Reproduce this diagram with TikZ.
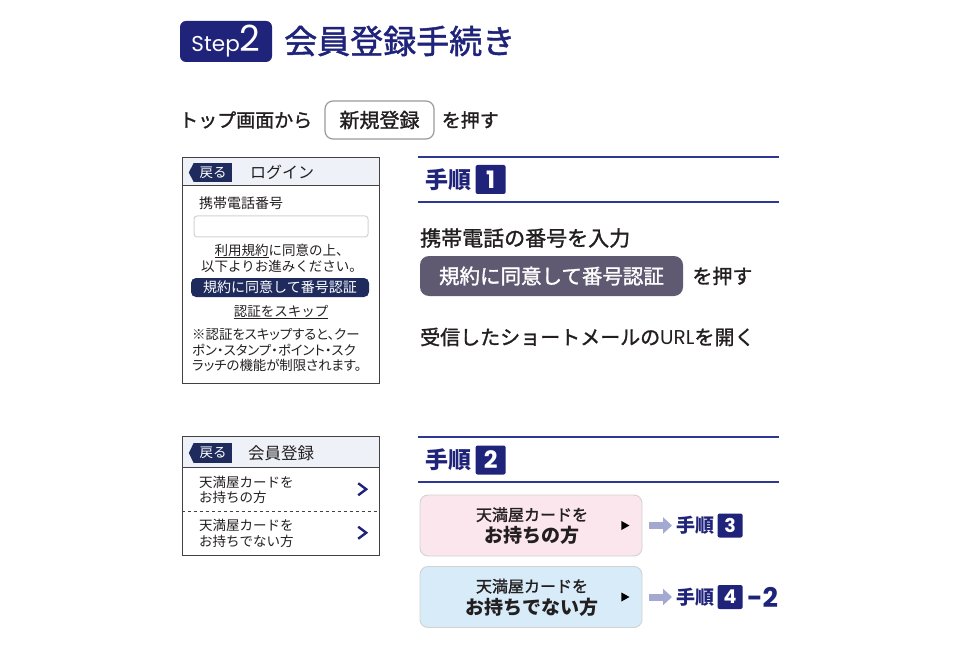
\documentclass[tikz,border=0pt]{standalone}
\usepackage{fontspec}
\setmainfont{Noto Sans CJK JP}
\newfontfamily\jpmid[FakeBold=1.4]{Noto Sans CJK JP}
\newfontfamily\jpprop[RawFeature=+palt]{Noto Sans CJK JP}
\newfontfamily\geo{Poppins}
\usetikzlibrary{arrows.meta, positioning, calc}
\definecolor{navy}    {HTML}{1F237A}
\definecolor{rule}    {HTML}{2C3893}
\definecolor{ink}     {HTML}{231F20}
\definecolor{headsoft}{HTML}{EEF2F8}
\definecolor{barnavy} {HTML}{1E2B5C}
\definecolor{btngray} {HTML}{5F5A72}
\definecolor{edge}    {HTML}{9A9A9A}
\definecolor{edgesoft}{HTML}{D2D2D2}
\definecolor{pinksoft}{HTML}{FBE6EE}
\definecolor{bluesoft}{HTML}{D7ECF8}
\definecolor{arrsoft} {HTML}{A4A9D2}
\newcommand{\fsz}[2]{\fontsize{#1}{#2}\selectfont}
\tikzset{
  txt/.style      = {inner sep=0pt, anchor=west, text=ink},
  ctxt/.style     = {inner sep=0pt, text=ink, align=center},
  screen/.style   = {draw=ink!85, line width=0.9pt, minimum width=197pt},
  head/.style     = {screen, fill=headsoft},
  backbtn/.style  = {fill=barnavy, text=white, inner sep=0pt,
                     minimum width=38pt, font=\fsz{13.5}{14}},
  field/.style    = {draw=edgesoft, line width=1pt, rounded corners=3pt},
  bar/.style      = {fill=barnavy, text=white, rounded corners=5pt,
                     inner sep=0pt, font=\fsz{14}{14}},
  rulebar/.style  = {draw=rule, line width=1.8pt},
  steplbl/.style  = {inner sep=0pt, text=navy, font=\fsz{23}{23}\bfseries},
  stepno/.style   = {fill=navy, text=white, rounded corners=2pt,
                     inner sep=0pt, minimum width=30pt, minimum height=29pt,
                     font=\fsz{24}{24}\geo\bfseries},
  gostep/.style   = {steplbl, anchor=west, font=\fsz{19}{19}\bfseries},
  gono/.style     = {stepno, minimum width=25pt, minimum height=24pt,
                     font=\fsz{19}{19}\geo\bfseries},
  card/.style     = {draw=edgesoft, line width=0.9pt, rounded corners=8pt,
                     minimum width=222pt, minimum height=61pt},
  blockarr/.style = {-{Triangle[length=9pt,width=16pt]}, line width=7pt,
                     arrsoft, shorten <=7pt, shorten >=4pt},
  chev/.style     = {navy, line width=2.4pt},
}

\begin{document}
\begin{tikzpicture}[x=1pt, y=-1pt]
  \useasboundingbox (0,0) rectangle (960,668);

  % title
  \node[fill=navy, text=white, rounded corners=6pt, minimum width=92pt,
        minimum height=41pt, inner sep=0pt] (badge) at (226,41.5)
    {\geo\fsz{21.5}{21}Step\fsz{36}{36}2};
  \node[txt, text=navy, font=\fsz{33}{33}\jpmid, anchor=west] (title) at (284,41)
    {会員登録手続き};

  % top line
  \node[txt, font=\fsz{19}{19}\jpmid] (top) at (179,120) {トップ画面から};
  \node[draw=edge, line width=1.2pt, rounded corners=8pt, minimum width=109pt,
        minimum height=38pt, inner sep=0pt, text=ink, font=\fsz{20}{20}\jpmid,
        right=12pt of top] (newreg) {新規登録};
  \node[txt, font=\fsz{19}{19}\jpmid, right=7pt of newreg] (push0) {を押す};

  % screen 1: login
  \node[screen, minimum height=226pt] (screen1) at (280.5,270) {};
  \node[head, minimum height=28pt, anchor=north] (head1) at (screen1.north) {};
  \node[backbtn, minimum height=19pt] (back1) at (213,172.5) {戻る};
  \fill[barnavy] (back1.north west) -- ($(back1.west)+(-5,0)$)
    -- (back1.south west) -- cycle;
  \node[txt, font=\fsz{16}{16}] (login) at (250,172.5) {ログイン};
  \node[txt, font=\fsz{14}{14}] (telno) at (199,203) {携帯電話番号};
  \node[field, minimum width=174pt, minimum height=21pt] (telin) at (281,226.5) {};
  \node[ctxt, font=\fsz{13.5}{16}] (agree) at (282,258)
    {\underline{利用規約}に同意の上、\\以下よりお進みください。};
  \node[bar, minimum width=178pt, minimum height=19pt] (authbar) at (280,287.5)
    {規約に同意して番号認証};
  \node[ctxt, font=\fsz{13.5}{14}] (skip) at (281,312) {\underline{認証をスキップ}};
  \node[txt, align=left, font=\fsz{13.4}{15.8}\jpprop] (note) at (192,350)
    {※認証をスキップすると、クー\\ポン・スタンプ・ポイント・スク\\ラッチの機能が制限されます。};

  % step 1
  \draw[rulebar] (418,157) -- (779,157);
  \draw[rulebar] (418,202) -- (779,202);
  \node[steplbl, anchor=west] (lbl1) at (425,179.5) {手順};
  \node[stepno, right=4pt of lbl1] (no1) {1};
  \node[txt, font=\fsz{21}{21}\jpmid] (input) at (420,238) {携帯電話の番号を入力};
  \node[fill=btngray, text=white, rounded corners=9pt, minimum width=263pt,
        minimum height=40pt, inner sep=0pt, font=\fsz{20.5}{20.5}\jpmid] (btn)
    at (551.5,276) {規約に同意して番号認証};
  \node[txt, font=\fsz{20}{20}\jpmid, right=9pt of btn] (push1) {を押す};
  \node[txt, font=\fsz{20}{20}\jpmid] (sms) at (420,337)
    {受信したショートメールの{\geo URL}を開く};

  % screen 2: member registration
  \node[screen, minimum height=119pt] (screen2) at (280.5,495.5) {};
  \node[head, minimum height=31pt, anchor=north] (head2) at (screen2.north) {};
  \node[backbtn, minimum height=20pt] (back2) at (213,453) {戻る};
  \fill[barnavy] (back2.north west) -- ($(back2.west)+(-5,0)$)
    -- (back2.south west) -- cycle;
  \node[txt, font=\fsz{16.5}{16.5}] (member) at (248,453) {会員登録};
  \node[minimum width=197pt, minimum height=43.5pt, inner sep=0pt] (row1)
    at (280.5,489.25) {};
  \node[minimum width=197pt, minimum height=43.5pt, inner sep=0pt] (row2)
    at (280.5,532.75) {};
  \draw[ink!85, dashed, line width=0.8pt] (row1.south west) -- (row1.south east);
  \node[txt, align=left, font=\fsz{13.5}{15.5}] (have) at (199,490)
    {天満屋カードを\\お持ちの方};
  \node[txt, align=left, font=\fsz{13.5}{15.5}] (nohave) at (199,533.5)
    {天満屋カードを\\お持ちでない方};
  \draw[chev] ([xshift=-21pt,yshift=-6pt]row1.east) -- ([xshift=-13pt]row1.east)
    -- ([xshift=-21pt,yshift=6pt]row1.east);
  \draw[chev] ([xshift=-21pt,yshift=-6pt]row2.east) -- ([xshift=-13pt]row2.east)
    -- ([xshift=-21pt,yshift=6pt]row2.east);

  % step 2
  \draw[rulebar] (418,437) -- (779,437);
  \draw[rulebar] (418,482) -- (779,482);
  \node[steplbl, anchor=west] (lbl2) at (425,460) {手順};
  \node[stepno, right=4pt of lbl2] (no2) {2};

  \node[card, fill=pinksoft] (card1) at (531,525.5) {};
  \node[ctxt, font=\fsz{16}{22}\jpmid] (card1t) at (532,526)
    {天満屋カードを\\\normalfont\fsz{19}{22}\bfseries お持ちの方};
  \fill[black] ([xshift=-21pt,yshift=-4.5pt]card1.east)
    -- ([xshift=-13pt]card1.east) -- ([xshift=-21pt,yshift=4.5pt]card1.east) -- cycle;
  \node[gostep] (go3) at (676,525.5) {手順};
  \node[gono, right=3pt of go3] (no3) {3};
  \draw[blockarr] (card1) -- (go3);

  \node[card, fill=bluesoft] (card2) at (531,597) {};
  \node[ctxt, font=\fsz{16}{22}\jpmid] (card2t) at (532,597.5)
    {天満屋カードを\\\normalfont\fsz{19}{22}\bfseries お持ちでない方};
  \fill[black] ([xshift=-21pt,yshift=-4.5pt]card2.east)
    -- ([xshift=-13pt]card2.east) -- ([xshift=-21pt,yshift=4.5pt]card2.east) -- cycle;
  \node[gostep] (go4) at (676,597) {手順};
  \node[gono, right=3pt of go4] (no4) {4};
  \node[inner sep=0pt, text=navy, font=\fsz{27}{27}\geo\bfseries, right=4pt of no4]
    (sub4) {-2};
  \draw[blockarr] (card2) -- (go4);

\end{tikzpicture}
\end{document}
